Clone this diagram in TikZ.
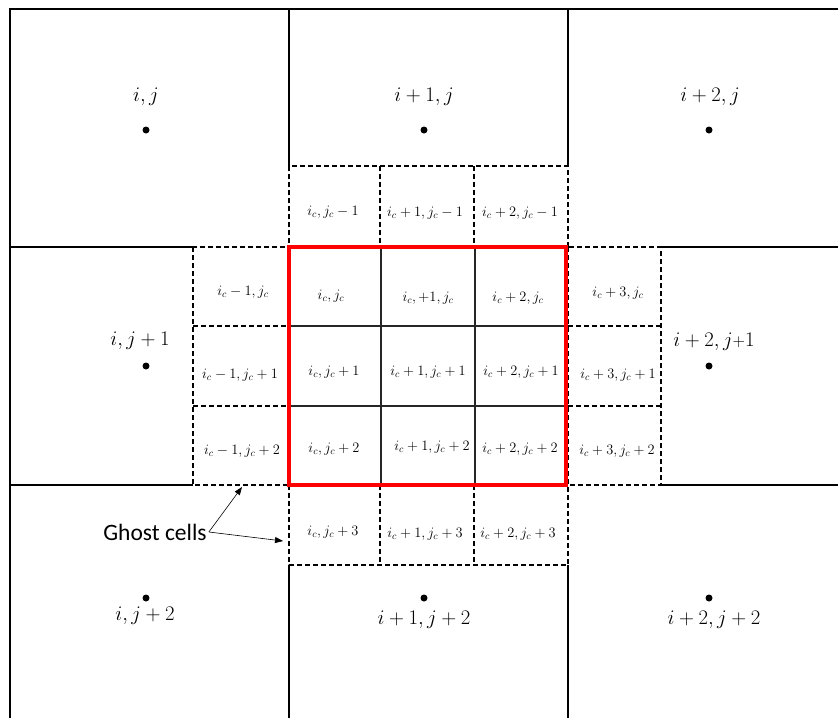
\documentclass[tikz,border=0pt]{standalone}
\usepackage{fontspec}
\newfontfamily\ghostfont{Carlito}
\usetikzlibrary{arrows.meta}
\begin{document}
\begin{tikzpicture}[x=1pt,y=-1pt,
  grid/.style={line width=1.3pt, black},
  ghost/.style={line width=1.7pt, black, dash pattern=on 5pt off 3pt},
  fine/.style={line width=1.2pt, black!85},
  redbox/.style={line width=3.6pt, red},
  big/.style={font=\fontsize{20.74}{25}\selectfont, inner sep=0pt},
  small/.style={font=\fontsize{14.4}{17}\selectfont, inner sep=0pt},
  dot/.style={circle, fill=black, inner sep=0pt, minimum size=7pt},
  lbl/.style={font=\ghostfont\fontsize{23.5}{28}\selectfont, inner sep=2pt},
  arr/.style={line width=0.6pt, -{Triangle[length=8pt,width=6pt]}}]
\useasboundingbox (0,0) rectangle (838,718);
% coarse grid (solid parts)
\draw[grid] (838,9) -| (10,718);
\draw[grid] (289,9) -- (289,166) (289,565) -- (289,718);
\draw[grid] (568,9) -- (568,166) (568,565) -- (568,718);
\draw[grid] (10,247) -- (193,247) (661,247) -- (838,247);
\draw[grid] (10,485) -- (193,485) (661,485) -- (838,485);
% ghost cells
\draw[ghost] (289,166) rectangle (568,247) (380,166) -- (380,247) (474,166) -- (474,247);
\draw[ghost] (289,485) rectangle (568,565) (380,485) -- (380,565) (474,485) -- (474,565);
\draw[ghost] (193,247) rectangle (289,485) (193,326) -- (289,326) (193,406) -- (289,406);
\draw[ghost] (568,247) rectangle (661,485) (568,326) -- (661,326) (568,406) -- (661,406);
% fine cells
\draw[fine] (381,247) -- (381,485) (475,247) -- (475,485) (289,326) -- (566,326) (289,406) -- (566,406);
\draw[redbox] (289,247) rectangle (566,485);
% coarse labels and centres
\node[big] (lij) at (146,97) {$i,j$};
\node[big] (li1j) at (424,97) {$i+1,j$};
\node[big] (li2j) at (710,97) {$i+2,j$};
\node[dot] (dij) at (146,130) {};
\node[dot] (di1j) at (424,130) {};
\node[dot] (di2j) at (709,130) {};
\node[big] (lij1) at (140,341) {$i,j+1$};
\node[big] (li2j1) at (714,342) {$i+2,j${\fontsize{17.28}{21}\selectfont+}$1$};
\node[dot] (dij1) at (146,366) {};
\node[dot] (di2j1) at (709,366) {};
\node[dot] (dij2) at (146,598) {};
\node[dot] (di1j2) at (424,598) {};
\node[dot] (di2j2) at (709,598) {};
\node[big] (lij2) at (145,616) {$i,j+2$};
\node[big] (li1j2) at (424,620) {$i+1,j+2$};
\node[big] (li2j2) at (714,620) {$i+2,j+2$};
% fine labels
\node[small] (t0) at (333,212) {$i_c,j_c-1$};
\node[small] (t1) at (425,213) {$i_c+1,j_c-1$};
\node[small] (t2) at (520,213) {$i_c+2,j_c-1$};
\node[small] (a0) at (243,292) {$i_c-1,j_c$};
\node[small] (a1) at (331,296) {$i_c,j_c$};
\node[small] (a2) at (428,298) {$i_c,+1,j_c$};
\node[small] (a3) at (518,298) {$i_c+2,j_c$};
\node[small] (a4) at (618,293) {$i_c+3,j_c$};
\node[small] (b0) at (240,375) {$i_c-1,j_c+1$};
\node[small] (b1) at (334,372) {$i_c,j_c+1$};
\node[small] (b2) at (428,372) {$i_c+1,j_c+1$};
\node[small] (b3) at (521,372) {$i_c+2,j_c+1$};
\node[small] (b4) at (618,375) {$i_c+3,j_c+1$};
\node[small] (c0) at (242,451) {$i_c-1,j_c+2$};
\node[small] (c1) at (334,449) {$i_c,j_c+2$};
\node[small] (c2) at (432,447) {$i_c+1,j_c+2$};
\node[small] (c3) at (520,449) {$i_c+2,j_c+2$};
\node[small] (c4) at (617,451) {$i_c+3,j_c+2$};
\node[small] (d0) at (333,532) {$i_c,j_c+3$};
\node[small] (d1) at (425,534) {$i_c+1,j_c+3$};
\node[small] (d2) at (518,534) {$i_c+2,j_c+3$};
% ghost cells annotation
\node[lbl] (gc) at (155,532) {Ghost cells};
\coordinate (g1) at (242,487);
\coordinate (g2) at (283,541);
\draw[arr] (gc.east) -- (g1);
\draw[arr] (gc.east) -- (g2);
\end{tikzpicture}
\end{document}
